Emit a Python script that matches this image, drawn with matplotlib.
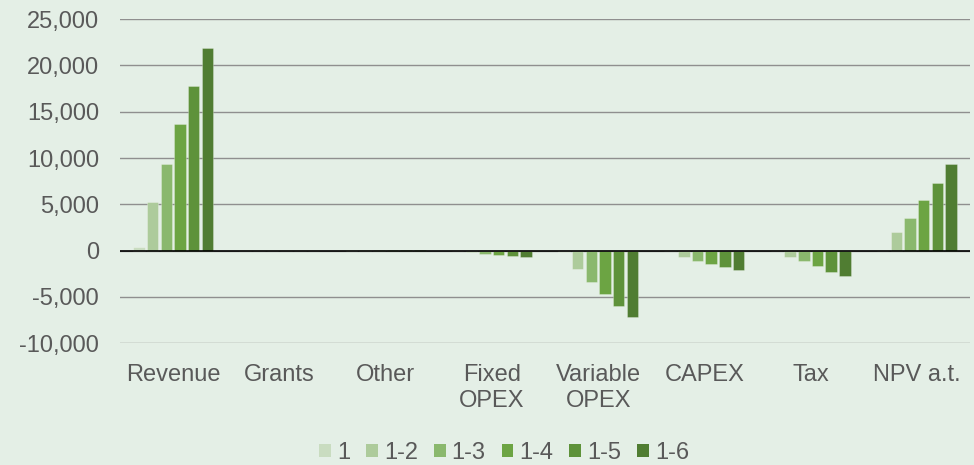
import numpy as np
import matplotlib
matplotlib.use("Agg")
import matplotlib.pyplot as plt
from matplotlib.patches import Patch
from matplotlib.ticker import FuncFormatter

# data
categories = ["Revenue", "Grants", "Other", "Fixed\nOPEX", "Variable\nOPEX", "CAPEX", "Tax", "NPV a.t."]
series_names = ["1", "1-2", "1-3", "1-4", "1-5", "1-6"]
s1 = [360, 0, 20, 0, -120, -80, 0, 0]
s12 = [5215, 0, 40, -160, -1940, -650, -650, 2010]
s13 = [9350, 0, 50, -370, -3380, -1110, -1110, 3520]
s14 = [13640, 0, 60, -500, -4680, -1430, -1690, 5420]
s15 = [17735, 0, 70, -540, -5970, -1800, -2260, 7330]
s16 = [21900, 0, 80, -690, -7160, -2080, -2760, 9340]
series_values = [s1, s12, s13, s14, s15, s16]

colors = ["#c9dcc0", "#adcb9b", "#8ab86d", "#6ca443", "#5e923a", "#507d32"]
bg = "#e4efe6"
txt = "#595959"

plt.rcParams["font.family"] = ["Liberation Sans", "DejaVu Sans"]

fig = plt.figure(figsize=(9.74, 4.65), dpi=100, facecolor=bg)
ax = fig.add_axes([0.1232, 0.2617, 0.8727, 0.6974])
ax.set_facecolor(bg)

x = np.arange(len(categories))
step = 0.129
width = 0.108
for i, (name, vals) in enumerate(zip(series_names, series_values)):
    ax.bar(x + (i - 2.5) * step, vals, width, color=colors[i],
           edgecolor=(1, 1, 1, 0.3), linewidth=0.6, label=name, zorder=3)

ax.set_xlim(-0.5, len(categories) - 0.5)
ax.set_ylim(-10000, 25000)
ax.set_yticks(np.arange(-10000, 25001, 5000))
ax.yaxis.set_major_formatter(FuncFormatter(lambda v, p: f"{int(v):,}"))
ax.set_xticks(x)
ax.set_xticklabels(categories, linespacing=1.2)

ax.grid(axis="y", color="#8f8f8f", linewidth=1.0, zorder=0)
ax.axhline(0, color="black", linewidth=1.2, zorder=4)
for sp in ax.spines.values():
    sp.set_visible(False)

ax.tick_params(axis="y", length=0, pad=15, labelsize=17, labelcolor=txt)
ax.tick_params(axis="x", length=0, pad=15, labelsize=17, labelcolor=txt)

handles = [Patch(facecolor=c, edgecolor="none") for c in colors]
fig.legend(handles, series_names, loc="center", bbox_to_anchor=(0.5175, 0.026),
           ncol=6, frameon=False, fontsize=17, labelcolor=txt,
           handlelength=0.5, handleheight=0.5, handletextpad=0.25,
           columnspacing=0.68, borderpad=0)

fig.savefig("out.png", dpi=100, facecolor=bg)
